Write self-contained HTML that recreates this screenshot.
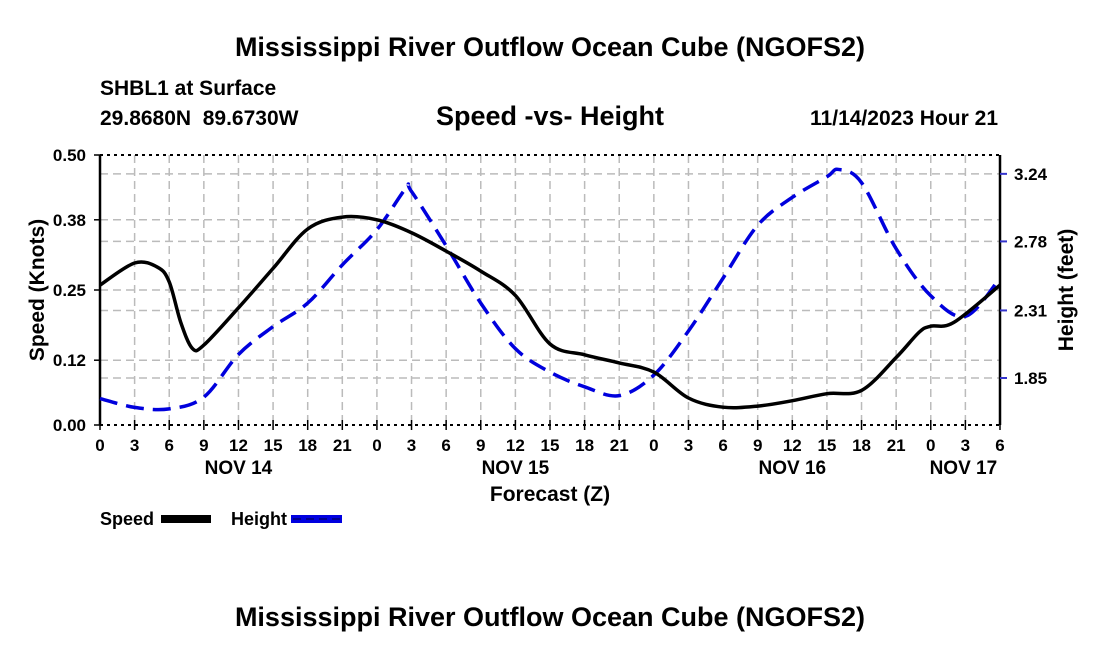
<!DOCTYPE html>
<html><head><meta charset="utf-8"><style>
body{margin:0;background:#fff;}
svg text{font-family:"Liberation Sans",sans-serif;font-weight:bold;fill:#000;white-space:pre;}
</style></head><body>
<svg id="c" width="1100" height="650" viewBox="0 0 1100 650">
<text x="550" y="56" font-size="27" text-anchor="middle">Mississippi River Outflow Ocean Cube (NGOFS2)</text>
<text x="100" y="95" font-size="21">SHBL1 at Surface</text>
<text x="100" y="125" font-size="21" xml:space="preserve">29.8680N  89.6730W</text>
<text x="550" y="125" font-size="27" text-anchor="middle">Speed -vs- Height</text>
<text x="998" y="125" font-size="21" text-anchor="end">11/14/2023 Hour 21</text>
<g id="grid"></g>
<g id="axes"></g>
<g id="series"></g>
<text x="550" y="501" font-size="21" text-anchor="middle">Forecast (Z)</text>
<text transform="translate(44,290) rotate(-90)" font-size="21" text-anchor="middle">Speed (Knots)</text>
<text transform="translate(1073,290) rotate(-90)" font-size="21" text-anchor="middle">Height (feet)</text>
<g>
<text x="100" y="525" font-size="18">Speed</text>
<rect x="161" y="515" width="50" height="8" fill="#000"/>
</g>
<g>
<text x="231" y="525" font-size="18">Height</text>
<rect x="291" y="515" width="51" height="8" fill="#0000e0"/>
<line x1="293" y1="519" x2="341" y2="519" stroke="#000090" stroke-width="2" stroke-dasharray="8 5"/>
</g>
<text x="550" y="626" font-size="27" text-anchor="middle">Mississippi River Outflow Ocean Cube (NGOFS2)</text>
</svg>
<script>
const hours=[0,3,5,6,7,8,9,12,15,18,21,24,27,30,33,36,39,42,45,48,51,54,57,60,63,66,69,71,72,74,78];
const speed=[0.259,0.300,0.292,0.265,0.190,0.142,0.148,0.217,0.290,0.363,0.385,0.380,0.356,0.322,0.285,0.240,0.150,0.130,0.115,0.098,0.050,0.033,0.035,0.045,0.058,0.064,0.125,0.172,0.183,0.190,0.259];
const hHours=[0,3,6,9,12,15,18,21,24,26.5,27,30,33,36,39,42,45,48,51,54,57,60,63,64,66,69,72,75,78];
const height=[1.71,1.65,1.64,1.72,2.01,2.20,2.36,2.62,2.86,3.14,3.12,2.75,2.36,2.05,1.89,1.79,1.73,1.87,2.17,2.53,2.89,3.08,3.22,3.27,3.18,2.73,2.41,2.27,2.53];
const leftTicks=[0.00,0.12,0.25,0.38,0.50];
const rightTicks=[1.85,2.31,2.78,3.24];
const dayLabels=["NOV 14","NOV 15","NOV 16","NOV 17"];
const X0=100,X1=1000,Y0=425,Y1=155,HMAX=78;
const xs=h=>X0+(X1-X0)*h/HMAX;
const ysL=v=>Y0-(Y0-Y1)*v/0.5;
const ysR=v=>378-(v-1.85)*(68/0.463);
const NS='http://www.w3.org/2000/svg';
function mk(t,a,p){const e=document.createElementNS(NS,t);for(const k in a)e.setAttribute(k,a[k]);p.appendChild(e);return e;}
const grid=document.getElementById('grid'),axes=document.getElementById('axes'),ser=document.getElementById('series');
for(let h=3;h<HMAX;h+=3){const l=mk('line',{x1:xs(h),x2:xs(h),y1:Y1,y2:Y0,stroke:'#bbb','stroke-width':1.5,'stroke-dasharray':'8 5'},grid);

}
leftTicks.slice(1,-1).forEach(v=>{const l=mk('line',{x1:X0,x2:X1,y1:ysL(v),y2:ysL(v),stroke:'#bbb','stroke-width':1.5,'stroke-dasharray':'8 5'},grid);

});
rightTicks.forEach(v=>{const l=mk('line',{x1:X0,x2:X1,y1:ysR(v),y2:ysR(v),stroke:'#bbb','stroke-width':1.5,'stroke-dasharray':'8 5'},grid);

});
mk('line',{x1:X0,x2:X1,y1:Y1,y2:Y1,stroke:'#000','stroke-width':2,'stroke-dasharray':'3 4'},axes);
mk('line',{x1:X0,x2:X1,y1:Y0,y2:Y0,stroke:'#000','stroke-width':2,'stroke-dasharray':'3 4'},axes);
mk('line',{x1:X0,x2:X0,y1:Y1,y2:Y0,stroke:'#000','stroke-width':2.5},axes);
mk('line',{x1:X1,x2:X1,y1:Y1,y2:Y0,stroke:'#000','stroke-width':2.5},axes);
for(let h=0;h<=HMAX;h+=3){mk('line',{x1:xs(h),x2:xs(h),y1:Y0-5,y2:Y0+5,stroke:'#000','stroke-width':1.5},axes);
const t=mk('text',{x:xs(h),y:451,'font-size':17,'text-anchor':'middle'},axes);t.textContent=String(h%24);

}
dayLabels.forEach((d,i)=>{const t=mk('text',{x:i==3?xs(75)-2:xs(12+i*24),y:474,'font-size':19,'text-anchor':'middle'},axes);t.textContent=d;

});
leftTicks.forEach(v=>{mk('line',{x1:X0-6,x2:X0,y1:ysL(v),y2:ysL(v),stroke:'#000','stroke-width':1.5},axes);
const t=mk('text',{x:X0-14,y:ysL(v)+6,'font-size':17,'text-anchor':'end'},axes);t.textContent=v.toFixed(2);

});
rightTicks.forEach(v=>{mk('line',{x1:X1,x2:X1+7,y1:ysR(v),y2:ysR(v),stroke:'#3333cc','stroke-width':2},axes);
const t=mk('text',{x:X1+14,y:ysR(v)+6,'font-size':17},axes);t.textContent=v.toFixed(2);

});
function smooth(P){let d='M'+P[0][0]+','+P[0][1];for(let i=0;i<P.length-1;i++){const p0=P[Math.max(0,i-1)],p1=P[i],p2=P[i+1],p3=P[Math.min(P.length-1,i+2)];
d+=' C'+(p1[0]+(p2[0]-p0[0])/6)+','+(p1[1]+(p2[1]-p0[1])/6)+' '+(p2[0]-(p3[0]-p1[0])/6)+','+(p2[1]-(p3[1]-p1[1])/6)+' '+p2[0]+','+p2[1];}return d;}
const hp=mk('path',{d:smooth(hHours.map((h,i)=>[xs(h),ysR(height[i])])),fill:'none',stroke:'#0000dd','stroke-width':3.5,'stroke-dasharray':'18 9'},ser);


const sp=mk('path',{d:smooth(hours.map((h,i)=>[xs(h),ysL(speed[i])])),fill:'none',stroke:'#000','stroke-width':3.5},ser);


</script>
</body></html>
